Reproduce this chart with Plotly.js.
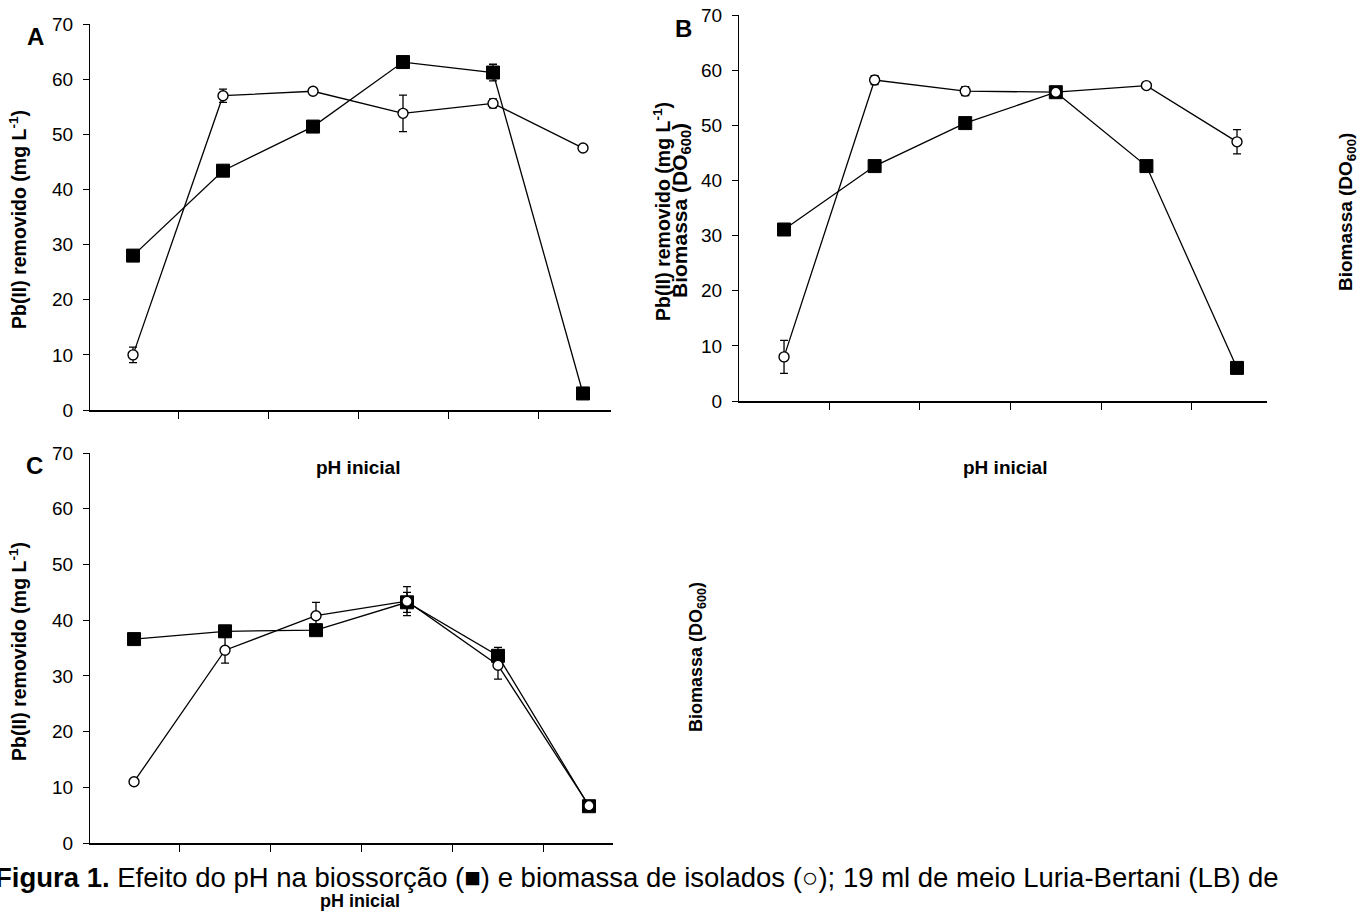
<!DOCTYPE html>
<html>
<head>
<meta charset="utf-8">
<script src="https://cdn.plot.ly/plotly-3.0.1.min.js"></script>
<style>html,body{margin:0;padding:0;background:#fff;}#chart{width:1370px;height:911px;}</style>
</head>
<body>
<div id="chart"></div>
<script>
// ---- data ----
const phLevels = [1, 2, 3, 4, 5, 6];
const yTicks = [0, 10, 20, 30, 40, 50, 60, 70];

const A_biossorcao = [28.0, 43.4, 51.4, 63.1, 61.2, 3.0];
const A_biossorcaoErr = [0.5, 0.8, 0.6, 0.6, 1.5, 0.4];
const A_biomassa = [10.0, 57.0, 57.8, 53.8, 55.6, 47.5];
const A_biomassaErr = [1.4, 1.2, 0.4, 3.3, 0.8, 0.4];

const B_biossorcao = [31.1, 42.6, 50.4, 56.0, 42.6, 6.0];
const B_biossorcaoErr = [0.4, 0.5, 0.5, 0.8, 1.0, 0.4];
const B_biomassa = [8.0, 58.2, 56.2, 56.0, 57.2, 47.0];
const B_biomassaErr = [3.0, 0.8, 0.8, 0.6, 0.3, 2.2];

const C_biossorcao = [36.6, 38.0, 38.2, 43.2, 33.6, 6.6];
const C_biossorcaoErr = [0.5, 0.8, 0.8, 1.8, 1.5, 0.4];
const C_biomassa = [11.0, 34.6, 40.8, 43.4, 31.9, 6.7];
const C_biomassaErr = [0.3, 2.3, 2.4, 2.6, 2.5, 0.4];

const yTitle = 'Pb(II) removido (mg L<sup>-1</sup>)';
const bioTitle = 'Biomassa (DO<sub>600</sub>)';
const xTitle = 'pH inicial';
const captionBold = 'Figura 1.';
const captionText = ' Efeito do pH na biossorção (■) e biomassa de isolados (○); 19 ml de meio Luria-Bertani (LB) de';

// ---- helpers ----
const W = 1370, H = 911;
const FONT = 'Liberation Sans, Arial, Helvetica, sans-serif';
const px = v => v / W;
const py = v => 1 - v / H;

function squares(y, err, xa, ya) {
  return {
    x: phLevels, y: y, xaxis: xa, yaxis: ya, type: 'scatter', mode: 'lines+markers',
    line: {color: '#000', width: 1.3},
    marker: {symbol: 'square', size: 13, color: '#000', line: {color: '#000', width: 1}},
    error_y: {type: 'data', array: err, visible: true, color: '#000', thickness: 1.3, width: 4},
    showlegend: false, cliponaxis: false
  };
}
function circles(y, err, xa, ya) {
  return {
    x: phLevels, y: y, xaxis: xa, yaxis: ya, type: 'scatter', mode: 'lines+markers',
    line: {color: '#000', width: 1.3},
    marker: {symbol: 'circle', size: 10, color: '#fff', line: {color: '#000', width: 1.4}},
    error_y: {type: 'data', array: err, visible: true, color: '#000', thickness: 1.3, width: 4},
    showlegend: false, cliponaxis: false
  };
}

const data = [
  squares(A_biossorcao, A_biossorcaoErr, 'x', 'y'),
  circles(A_biomassa, A_biomassaErr, 'x', 'y'),
  squares(B_biossorcao, B_biossorcaoErr, 'x2', 'y2'),
  circles(B_biomassa, B_biomassaErr, 'x2', 'y2'),
  squares(C_biossorcao, C_biossorcaoErr, 'x3', 'y3'),
  circles(C_biomassa, C_biomassaErr, 'x3', 'y3')
];

function xAxis(domain, range, anchor) {
  return {
    domain: domain, range: range, anchor: anchor,
    showline: true, linecolor: '#000', linewidth: 1.6,
    showgrid: false, zeroline: false,
    tickmode: 'array', tickvals: [1.5, 2.5, 3.5, 4.5, 5.5], showticklabels: false,
    ticks: 'outside', ticklen: 7, tickwidth: 1, tickcolor: '#000'
  };
}
function yAxis(domain, anchor) {
  return {
    domain: domain, range: [0, 70], anchor: anchor,
    showline: true, linecolor: '#000', linewidth: 1.1,
    showgrid: false, zeroline: false,
    tickmode: 'array', tickvals: yTicks, ticktext: yTicks.map(String),
    ticks: 'outside', ticklen: 6, tickwidth: 1, tickcolor: '#000',
    ticklabelstandoff: 6,
    tickfont: {family: FONT, size: 19, color: '#000'}
  };
}

function ann(text, x, y, size, opts) {
  return Object.assign({
    text: text, xref: 'paper', yref: 'paper', x: px(x), y: py(y),
    showarrow: false, xanchor: 'center', yanchor: 'middle',
    font: {family: FONT, size: size, color: '#000'}
  }, opts || {});
}

const annotations = [
  ann('<b>A</b>', 35, 36, 24),
  ann('<b>B</b>', 683, 28, 24),
  ann('<b>C</b>', 34, 466, 24),
  ann('<b>' + yTitle + '</b>', 18, 220, 19.5, {textangle: -90}),
  ann('<b>' + yTitle + '</b>', 662, 212, 19.5, {textangle: -90}),
  ann('<b>' + bioTitle + '</b>', 681, 211, 21, {textangle: -90}),
  ann('<b>' + bioTitle + '</b>', 1347, 212, 19, {textangle: -90}),
  ann('<b>' + yTitle + '</b>', 18, 652, 19.5, {textangle: -90}),
  ann('<b>' + bioTitle + '</b>', 697, 657, 18, {textangle: -90}),
  ann('<b>' + xTitle + '</b>', 358, 467, 19),
  ann('<b>' + xTitle + '</b>', 1005, 467, 19),
  ann('<b>' + captionBold + '</b>' + captionText, -7, 877, 27.5, {xanchor: 'left'}),
  ann('<b>' + xTitle + '</b>', 360, 901, 18)
];

const layout = {
  width: W, height: H,
  margin: {l: 0, r: 0, t: 0, b: 0, pad: 0},
  paper_bgcolor: '#fff', plot_bgcolor: 'rgba(0,0,0,0)',
  showlegend: false,
  font: {family: FONT, color: '#000'},
  xaxis: xAxis([px(90), px(611)], [0.522, 6.311], 'y'),
  yaxis: yAxis([py(410), py(24)], 'x'),
  xaxis2: xAxis([px(739), px(1267)], [0.503, 6.331], 'y2'),
  yaxis2: yAxis([py(401), py(15)], 'x2'),
  xaxis3: xAxis([px(90), px(613)], [0.516, 6.264], 'y3'),
  yaxis3: yAxis([py(843), py(453)], 'x3'),
  annotations: annotations
};

Plotly.newPlot('chart', data, layout, {displayModeBar: false, staticPlot: true});
</script>
</body>
</html>
